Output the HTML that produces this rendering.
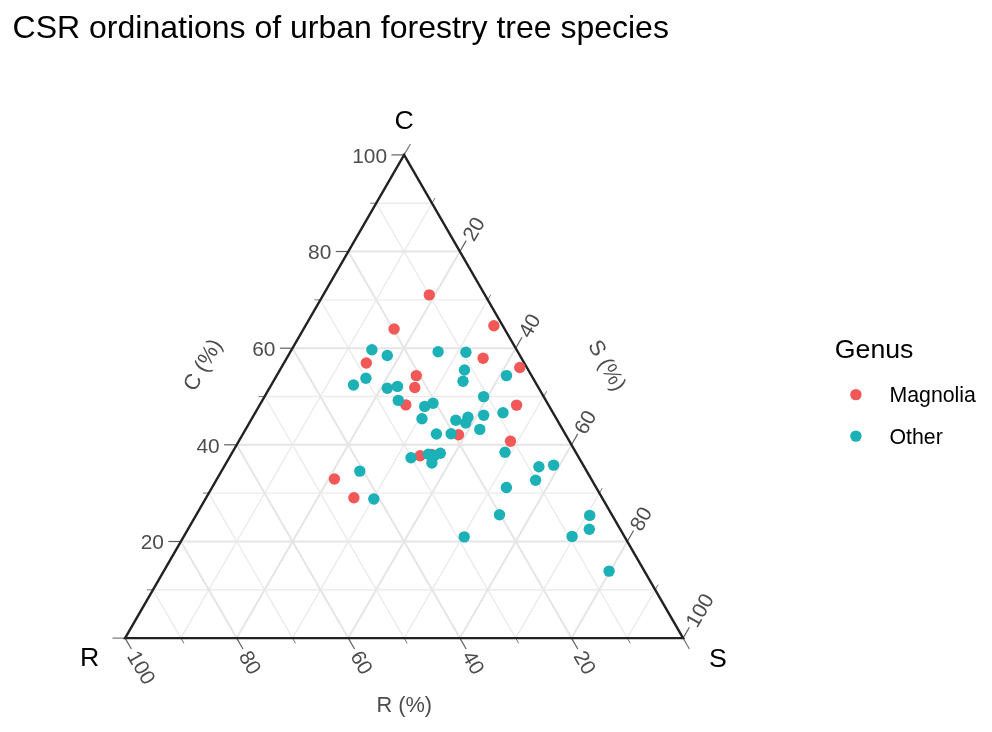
<!DOCTYPE html>
<html lang="en"><head><meta charset="utf-8"><title>CSR ordinations of urban forestry tree species</title>
<style>html,body{margin:0;padding:0;background:#fff}svg{display:block}text{font-family:"Liberation Sans",Arial,Helvetica,sans-serif}</style>
</head><body>
<svg width="992" height="732" viewBox="0 0 992 732">
<rect width="992" height="732" fill="#ffffff"/>
<text x="12.6" y="37.8" font-size="32" fill="#000">CSR ordinations of urban forestry tree species</text>
<g fill="none" stroke-linecap="butt">
<line x1="153.0" y1="589.8" x2="655.2" y2="589.8" stroke="#ebebeb" stroke-width="1.4"/>
<line x1="376.2" y1="203.2" x2="627.3" y2="638.1" stroke="#ebebeb" stroke-width="1.4"/>
<line x1="432.0" y1="203.2" x2="180.9" y2="638.1" stroke="#ebebeb" stroke-width="1.4"/>
<line x1="180.9" y1="541.5" x2="627.3" y2="541.5" stroke="#e5e5e5" stroke-width="2.0"/>
<line x1="348.3" y1="251.5" x2="571.5" y2="638.1" stroke="#e5e5e5" stroke-width="2.0"/>
<line x1="459.9" y1="251.5" x2="236.7" y2="638.1" stroke="#e5e5e5" stroke-width="2.0"/>
<line x1="208.8" y1="493.1" x2="599.4" y2="493.1" stroke="#ebebeb" stroke-width="1.4"/>
<line x1="320.4" y1="299.9" x2="515.7" y2="638.1" stroke="#ebebeb" stroke-width="1.4"/>
<line x1="487.8" y1="299.9" x2="292.5" y2="638.1" stroke="#ebebeb" stroke-width="1.4"/>
<line x1="236.7" y1="444.8" x2="571.5" y2="444.8" stroke="#e5e5e5" stroke-width="2.0"/>
<line x1="292.5" y1="348.2" x2="459.9" y2="638.1" stroke="#e5e5e5" stroke-width="2.0"/>
<line x1="515.7" y1="348.2" x2="348.3" y2="638.1" stroke="#e5e5e5" stroke-width="2.0"/>
<line x1="264.6" y1="396.5" x2="543.6" y2="396.5" stroke="#ebebeb" stroke-width="1.4"/>
<line x1="264.6" y1="396.5" x2="404.1" y2="638.1" stroke="#ebebeb" stroke-width="1.4"/>
<line x1="543.6" y1="396.5" x2="404.1" y2="638.1" stroke="#ebebeb" stroke-width="1.4"/>
<line x1="292.5" y1="348.2" x2="515.7" y2="348.2" stroke="#e5e5e5" stroke-width="2.0"/>
<line x1="236.7" y1="444.8" x2="348.3" y2="638.1" stroke="#e5e5e5" stroke-width="2.0"/>
<line x1="571.5" y1="444.8" x2="459.9" y2="638.1" stroke="#e5e5e5" stroke-width="2.0"/>
<line x1="320.4" y1="299.9" x2="487.8" y2="299.9" stroke="#ebebeb" stroke-width="1.4"/>
<line x1="208.8" y1="493.1" x2="292.5" y2="638.1" stroke="#ebebeb" stroke-width="1.4"/>
<line x1="599.4" y1="493.1" x2="515.7" y2="638.1" stroke="#ebebeb" stroke-width="1.4"/>
<line x1="348.3" y1="251.5" x2="459.9" y2="251.5" stroke="#e5e5e5" stroke-width="2.0"/>
<line x1="180.9" y1="541.5" x2="236.7" y2="638.1" stroke="#e5e5e5" stroke-width="2.0"/>
<line x1="627.3" y1="541.5" x2="571.5" y2="638.1" stroke="#e5e5e5" stroke-width="2.0"/>
<line x1="376.2" y1="203.2" x2="432.0" y2="203.2" stroke="#ebebeb" stroke-width="1.4"/>
<line x1="153.0" y1="589.8" x2="180.9" y2="638.1" stroke="#ebebeb" stroke-width="1.4"/>
<line x1="655.2" y1="589.8" x2="627.3" y2="638.1" stroke="#ebebeb" stroke-width="1.4"/>
</g>
<g fill="none">
<line x1="125.1" y1="638.1" x2="112.5" y2="638.1" stroke="#787878" stroke-width="1.2"/>
<line x1="404.1" y1="154.9" x2="410.4" y2="144.0" stroke="#787878" stroke-width="1.2"/>
<line x1="683.1" y1="638.1" x2="689.4" y2="649.0" stroke="#787878" stroke-width="1.2"/>
<line x1="153.0" y1="589.8" x2="147.0" y2="589.8" stroke="#767676" stroke-width="1.0"/>
<line x1="432.0" y1="203.2" x2="435.0" y2="198.0" stroke="#767676" stroke-width="1.0"/>
<line x1="627.3" y1="638.1" x2="630.3" y2="643.3" stroke="#767676" stroke-width="1.0"/>
<line x1="180.9" y1="541.5" x2="168.3" y2="541.5" stroke="#606060" stroke-width="1.2"/>
<line x1="459.9" y1="251.5" x2="466.2" y2="240.6" stroke="#606060" stroke-width="1.2"/>
<line x1="571.5" y1="638.1" x2="577.8" y2="649.0" stroke="#606060" stroke-width="1.2"/>
<line x1="208.8" y1="493.1" x2="202.8" y2="493.1" stroke="#767676" stroke-width="1.0"/>
<line x1="487.8" y1="299.9" x2="490.8" y2="294.7" stroke="#767676" stroke-width="1.0"/>
<line x1="515.7" y1="638.1" x2="518.7" y2="643.3" stroke="#767676" stroke-width="1.0"/>
<line x1="236.7" y1="444.8" x2="224.1" y2="444.8" stroke="#606060" stroke-width="1.2"/>
<line x1="515.7" y1="348.2" x2="522.0" y2="337.3" stroke="#606060" stroke-width="1.2"/>
<line x1="459.9" y1="638.1" x2="466.2" y2="649.0" stroke="#606060" stroke-width="1.2"/>
<line x1="264.6" y1="396.5" x2="258.6" y2="396.5" stroke="#767676" stroke-width="1.0"/>
<line x1="543.6" y1="396.5" x2="546.6" y2="391.3" stroke="#767676" stroke-width="1.0"/>
<line x1="404.1" y1="638.1" x2="407.1" y2="643.3" stroke="#767676" stroke-width="1.0"/>
<line x1="292.5" y1="348.2" x2="279.9" y2="348.2" stroke="#606060" stroke-width="1.2"/>
<line x1="571.5" y1="444.8" x2="577.8" y2="433.9" stroke="#606060" stroke-width="1.2"/>
<line x1="348.3" y1="638.1" x2="354.6" y2="649.0" stroke="#606060" stroke-width="1.2"/>
<line x1="320.4" y1="299.9" x2="314.4" y2="299.9" stroke="#767676" stroke-width="1.0"/>
<line x1="599.4" y1="493.1" x2="602.4" y2="487.9" stroke="#767676" stroke-width="1.0"/>
<line x1="292.5" y1="638.1" x2="295.5" y2="643.3" stroke="#767676" stroke-width="1.0"/>
<line x1="348.3" y1="251.5" x2="335.7" y2="251.5" stroke="#606060" stroke-width="1.2"/>
<line x1="627.3" y1="541.5" x2="633.6" y2="530.5" stroke="#606060" stroke-width="1.2"/>
<line x1="236.7" y1="638.1" x2="243.0" y2="649.0" stroke="#606060" stroke-width="1.2"/>
<line x1="376.2" y1="203.2" x2="370.2" y2="203.2" stroke="#767676" stroke-width="1.0"/>
<line x1="655.2" y1="589.8" x2="658.2" y2="584.6" stroke="#767676" stroke-width="1.0"/>
<line x1="180.9" y1="638.1" x2="183.9" y2="643.3" stroke="#767676" stroke-width="1.0"/>
<line x1="404.1" y1="154.9" x2="391.5" y2="154.9" stroke="#606060" stroke-width="1.2"/>
<line x1="683.1" y1="638.1" x2="689.4" y2="627.2" stroke="#606060" stroke-width="1.2"/>
<line x1="125.1" y1="638.1" x2="131.4" y2="649.0" stroke="#606060" stroke-width="1.2"/>
</g>
<polygon points="404.1,154.9 683.1,638.1 125.1,638.1" fill="none" stroke="#222222" stroke-width="2.4" stroke-linejoin="miter"/>
<g font-size="20.9" fill="#4d4d4d">
<text x="163.9" y="549.4" text-anchor="end">20</text>
<text transform="translate(467.3,238.7) rotate(-60)" x="0" y="7.6">20</text>
<text transform="translate(579.6,652.1) rotate(60)" x="0" y="7.6">20</text>
<text x="219.7" y="452.7" text-anchor="end">40</text>
<text transform="translate(523.1,335.4) rotate(-60)" x="0" y="7.6">40</text>
<text transform="translate(468.0,652.1) rotate(60)" x="0" y="7.6">40</text>
<text x="275.5" y="356.1" text-anchor="end">60</text>
<text transform="translate(578.9,432.0) rotate(-60)" x="0" y="7.6">60</text>
<text transform="translate(356.4,652.1) rotate(60)" x="0" y="7.6">60</text>
<text x="331.3" y="259.4" text-anchor="end">80</text>
<text transform="translate(634.7,528.6) rotate(-60)" x="0" y="7.6">80</text>
<text transform="translate(244.8,652.1) rotate(60)" x="0" y="7.6">80</text>
<text x="387.1" y="162.8" text-anchor="end">100</text>
<text transform="translate(690.5,625.3) rotate(-60)" x="0" y="7.6">100</text>
<text transform="translate(133.2,652.1) rotate(60)" x="0" y="7.6">100</text>
</g>
<g font-size="21.8" fill="#4d4d4d" text-anchor="middle">
<text transform="translate(201.9,364.5) rotate(-60)" x="0" y="7.8">C (%)</text>
<text transform="translate(607.8,365) rotate(60)" x="0" y="7.8">S (%)</text>
<text x="404.3" y="711.9">R (%)</text>
</g>
<g font-size="26.7" fill="#000" text-anchor="middle">
<text x="404.2" y="128.9">C</text>
<text x="89.6" y="666.4">R</text>
<text x="718" y="666.6">S</text>
</g>
<g fill="#f25858">
<circle cx="429.3" cy="294.9" r="5.7"/>
<circle cx="394.1" cy="329.0" r="5.7"/>
<circle cx="493.9" cy="325.7" r="5.7"/>
<circle cx="366.3" cy="363.0" r="5.7"/>
<circle cx="483.1" cy="358.2" r="5.7"/>
<circle cx="519.8" cy="367.5" r="5.7"/>
<circle cx="416.3" cy="375.6" r="5.7"/>
<circle cx="414.8" cy="387.5" r="5.7"/>
<circle cx="405.8" cy="404.9" r="5.7"/>
<circle cx="516.6" cy="405.1" r="5.7"/>
<circle cx="458.5" cy="434.7" r="5.7"/>
<circle cx="510.5" cy="441.2" r="5.7"/>
<circle cx="420.1" cy="455.7" r="5.7"/>
<circle cx="431.5" cy="454.5" r="5.7"/>
<circle cx="334.4" cy="479.0" r="5.7"/>
<circle cx="353.9" cy="497.7" r="5.7"/>
</g>
<g fill="#1cb0b7">
<circle cx="371.9" cy="349.8" r="5.7"/>
<circle cx="387.3" cy="355.5" r="5.7"/>
<circle cx="438.1" cy="351.7" r="5.7"/>
<circle cx="465.9" cy="352.3" r="5.7"/>
<circle cx="464.5" cy="370.0" r="5.7"/>
<circle cx="463.0" cy="381.3" r="5.7"/>
<circle cx="365.9" cy="378.3" r="5.7"/>
<circle cx="353.5" cy="385.0" r="5.7"/>
<circle cx="387.3" cy="388.3" r="5.7"/>
<circle cx="397.5" cy="386.4" r="5.7"/>
<circle cx="506.5" cy="375.6" r="5.7"/>
<circle cx="398.3" cy="400.4" r="5.7"/>
<circle cx="424.7" cy="406.4" r="5.7"/>
<circle cx="433.0" cy="403.3" r="5.7"/>
<circle cx="422.0" cy="418.8" r="5.7"/>
<circle cx="455.8" cy="420.3" r="5.7"/>
<circle cx="468.0" cy="417.2" r="5.7"/>
<circle cx="465.7" cy="423.0" r="5.7"/>
<circle cx="483.6" cy="396.6" r="5.7"/>
<circle cx="483.7" cy="415.3" r="5.7"/>
<circle cx="503.0" cy="412.8" r="5.7"/>
<circle cx="479.8" cy="429.4" r="5.7"/>
<circle cx="436.4" cy="434.0" r="5.7"/>
<circle cx="451.1" cy="433.7" r="5.7"/>
<circle cx="411.0" cy="457.8" r="5.7"/>
<circle cx="428.4" cy="454.2" r="5.7"/>
<circle cx="440.3" cy="453.2" r="5.7"/>
<circle cx="434.5" cy="455.5" r="5.7"/>
<circle cx="431.9" cy="463.0" r="5.7"/>
<circle cx="505.0" cy="452.3" r="5.7"/>
<circle cx="538.9" cy="466.7" r="5.7"/>
<circle cx="553.6" cy="465.1" r="5.7"/>
<circle cx="535.6" cy="480.2" r="5.7"/>
<circle cx="506.4" cy="487.5" r="5.7"/>
<circle cx="499.5" cy="514.7" r="5.7"/>
<circle cx="589.7" cy="515.4" r="5.7"/>
<circle cx="589.3" cy="529.3" r="5.7"/>
<circle cx="572.1" cy="536.4" r="5.7"/>
<circle cx="464.2" cy="536.9" r="5.7"/>
<circle cx="609.1" cy="571.1" r="5.7"/>
<circle cx="359.8" cy="471.1" r="5.7"/>
<circle cx="373.8" cy="499.0" r="5.7"/>
</g>
<text x="834.8" y="357.5" font-size="26.7" fill="#000">Genus</text>
<circle cx="855.9" cy="394.6" r="5.7" fill="#f25858"/>
<circle cx="855.9" cy="436.1" r="5.7" fill="#1cb0b7"/>
<g font-size="21.3" fill="#000">
<text x="889.5" y="402.2">Magnolia</text>
<text x="889.5" y="444.3">Other</text>
</g>
</svg>
</body></html>
